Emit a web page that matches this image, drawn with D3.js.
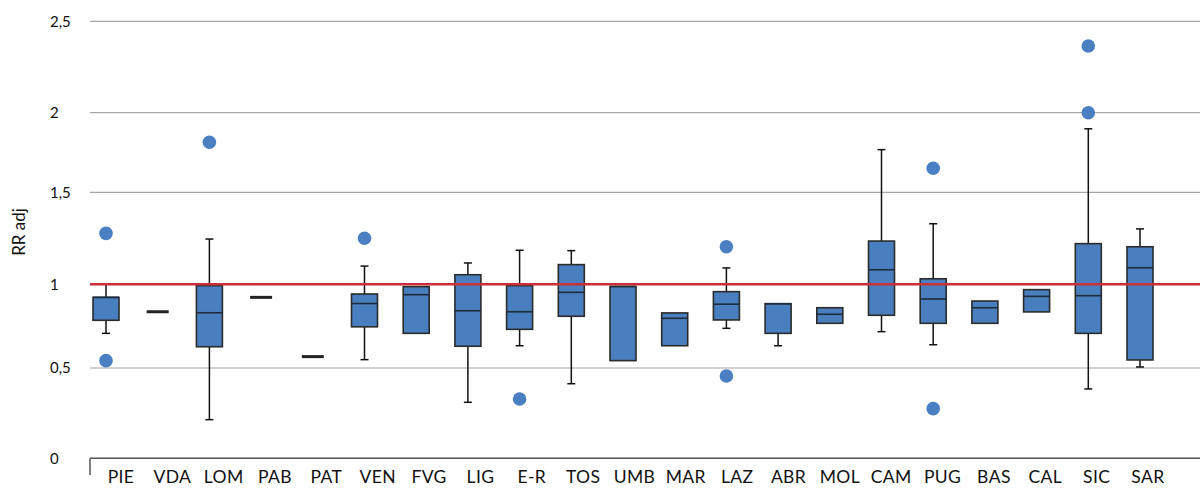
<!DOCTYPE html>
<html>
<head>
<meta charset="utf-8">
<script src="https://cdn.jsdelivr.net/npm/d3@7/dist/d3.min.js"></script>
<style>
  html, body { margin: 0; padding: 0; background: #fff; }
  svg { display: block; }
  text { font-family: "Lato", "Open Sans", sans-serif; fill: #111; }
</style>
</head>
<body>
<svg id="chart" width="1200" height="488"></svg>
<script>
// ---- data ----
const categories = ["PIE","VDA","LOM","PAB","PAT","VEN","FVG","LIG","E-R","TOS","UMB","MAR","LAZ","ABR","MOL","CAM","PUG","BAS","CAL","SIC","SAR"];
const whiskerLow  = [0.707, null, 0.214, null, null, 0.550, null, 0.310, 0.633, 0.413, null, null, 0.737, 0.633, null, 0.717, 0.639, null, null, 0.384, 0.506];
const q1          = [0.785, 0.836, 0.627, 0.922, 0.568, 0.746, 0.707, 0.630, 0.731, 0.809, 0.544, 0.633, 0.787, 0.707, 0.767, 0.815, 0.767, 0.767, 0.835, 0.707, 0.548];
const medians     = [0.922, 0.836, 0.830, 0.922, 0.568, 0.885, 0.938, 0.842, 0.836, 0.952, 0.987, 0.797, 0.881, 0.884, 0.821, 1.079, 0.912, 0.860, 0.928, 0.932, 1.090];
const q3          = [0.922, 0.836, 0.992, 0.922, 0.568, 0.942, 0.986, 1.052, 0.992, 1.107, 0.987, 0.829, 0.956, 0.884, 0.860, 1.235, 1.030, 0.900, 0.968, 1.221, 1.204];
const whiskerHigh = [1.000, null, 1.246, null, null, 1.099, null, 1.116, 1.185, 1.183, null, null, 1.089, null, null, 1.768, 1.329, null, null, 1.899, 1.301];
const outliers    = [[1.277, 0.544], [], [1.814], [], [], [1.250], [], [], [0.328], [], [], [], [1.204, 0.456], [], [], [], [1.651, 0.275], [], [], [2.365, 2.000], []];
const yTicks = [0, 0.5, 1, 1.5, 2, 2.5];
const yTickLabels = ["0", "0,5", "1", "1,5", "2", "2,5"];
const referenceValue = 1;
const yTitle = "RR adj";

// ---- scales ----
const svg = d3.select("#chart");
const plotLeft = 90, plotRight = 1200;
const y = d3.scaleLinear().domain(yTicks).range([458.3, 368, 284.3, 192.3, 112.7, 21.3]);
const x = d3.scalePoint().domain(categories).range([106, 1140]);
const xLabel = d3.scalePoint().domain(categories).range([121, 1148]);

const boxFill = "#4a7fbf";
const boxStroke = "#2b2b2b";
const boxW = 26, capW = 8, flatW = 22;

// gridlines
svg.append("g").selectAll("line").data(yTicks.filter(t => t > 0)).join("line")
  .attr("x1", plotLeft).attr("x2", plotRight)
  .attr("y1", d => y(d)).attr("y2", d => y(d))
  .attr("stroke", "#a6a6a6").attr("stroke-width", 1.2);

// x axis line
const axisG = svg.append("g");
axisG.append("line").attr("x1", plotLeft).attr("x2", plotRight)
  .attr("y1", y(0)).attr("y2", y(0)).attr("stroke", "#555").attr("stroke-width", 1.5);
axisG.append("line").attr("x1", plotLeft).attr("x2", plotLeft)
  .attr("y1", y(0)).attr("y2", 475).attr("stroke", "#555").attr("stroke-width", 1.5);

// y tick labels
svg.append("g").selectAll("text").data(yTicks).join("text")
  .attr("x", 50).attr("y", d => y(d)).attr("dy", "0.35em")
  .attr("font-size", 15).attr("text-anchor", "start")
  .text((d, i) => yTickLabels[i]);

// y title
svg.append("text")
  .attr("transform", "translate(25,232) rotate(-90)")
  .attr("text-anchor", "middle").attr("font-size", 17)
  .text(yTitle);

// x labels
svg.append("g").selectAll("text").data(categories).join("text")
  .attr("x", d => xLabel(d)).attr("y", 483)
  .attr("text-anchor", "middle").attr("font-size", 17.5)
  .attr("letter-spacing", 0.4)
  .text(d => d);

const rows = categories.map((c, i) => ({
  c, lo: whiskerLow[i], q1: q1[i], med: medians[i], q3: q3[i], hi: whiskerHigh[i], out: outliers[i]
}));

// whiskers
const wg = svg.append("g").attr("stroke", "#111").attr("stroke-width", 1.5);
rows.forEach(r => {
  if (r.hi != null) {
    wg.append("line").attr("x1", x(r.c)).attr("x2", x(r.c)).attr("y1", y(r.q3)).attr("y2", y(r.hi));
    wg.append("line").attr("x1", x(r.c) - capW/2).attr("x2", x(r.c) + capW/2).attr("y1", y(r.hi)).attr("y2", y(r.hi));
  }
  if (r.lo != null) {
    wg.append("line").attr("x1", x(r.c)).attr("x2", x(r.c)).attr("y1", y(r.q1)).attr("y2", y(r.lo));
    wg.append("line").attr("x1", x(r.c) - capW/2).attr("x2", x(r.c) + capW/2).attr("y1", y(r.lo)).attr("y2", y(r.lo));
  }
});

// boxes
const boxRows = rows.filter(r => r.q3 > r.q1);
svg.append("g").selectAll("rect").data(boxRows).join("rect")
  .attr("x", r => x(r.c) - boxW/2).attr("width", boxW)
  .attr("y", r => y(r.q3)).attr("height", r => y(r.q1) - y(r.q3))
  .attr("fill", boxFill).attr("stroke", boxStroke).attr("stroke-width", 1.6);

// medians
svg.append("g").selectAll("line").data(boxRows).join("line")
  .attr("x1", r => x(r.c) - boxW/2).attr("x2", r => x(r.c) + boxW/2)
  .attr("y1", r => y(r.med)).attr("y2", r => y(r.med))
  .attr("stroke", "#1d2b3a").attr("stroke-width", 1.6);

// flat (single value) markers
svg.append("g").selectAll("line").data(rows.filter(r => r.q3 === r.q1)).join("line")
  .attr("x1", r => x(r.c) - flatW/2).attr("x2", r => x(r.c) + flatW/2)
  .attr("y1", r => y(r.med)).attr("y2", r => y(r.med))
  .attr("stroke", "#222").attr("stroke-width", 3);

// outliers
const outPts = rows.flatMap(r => r.out.map(v => ({ c: r.c, v })));
svg.append("g").selectAll("circle").data(outPts).join("circle")
  .attr("cx", d => x(d.c)).attr("cy", d => y(d.v)).attr("r", 6.8)
  .attr("fill", "#4a80c2");

// reference line
svg.append("line").attr("x1", plotLeft).attr("x2", plotRight)
  .attr("y1", y(referenceValue)).attr("y2", y(referenceValue))
  .attr("stroke", "#c8303a").attr("stroke-width", 2.6);
</script>
</body>
</html>
